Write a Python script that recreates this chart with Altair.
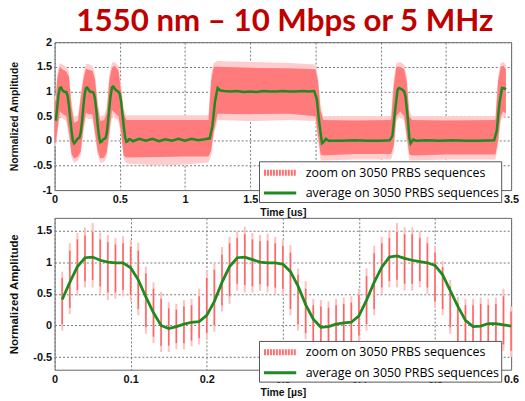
import altair as alt
import pandas as pd

TITLE = "1550 nm – 10 Mbps or 5 MHz"
LEG_ZOOM = "zoom on 3050 PRBS sequences"
LEG_AVG = "average on 3050 PRBS sequences"
Y_TITLE = "Normalized Amplitude"
X_TITLE_TOP = "Time [us]"
X_TITLE_BOT = "Time [µs]"

# ---------------- bottom panel (zoom 0 - 0.6 us), one sample every 10 ns
bot_t = [0.01, 0.02, 0.03, 0.04, 0.05, 0.06, 0.07, 0.08, 0.09, 0.10,
         0.11, 0.12, 0.13, 0.14, 0.15, 0.16, 0.17, 0.18, 0.19, 0.20,
         0.21, 0.22, 0.23, 0.24, 0.25, 0.26, 0.27, 0.28, 0.29, 0.30,
         0.31, 0.32, 0.33, 0.34, 0.35, 0.36, 0.37, 0.38, 0.39, 0.40,
         0.41, 0.42, 0.43, 0.44, 0.45, 0.46, 0.47, 0.48, 0.49, 0.50,
         0.51, 0.52, 0.53, 0.54, 0.55, 0.56, 0.57, 0.58, 0.59, 0.60]
bot_avg = [0.41, 0.68, 0.93, 1.07, 1.08, 1.03, 1.00, 0.99, 0.99, 0.91,
           0.72, 0.45, 0.20, 0.00, -0.05, -0.02, 0.02, 0.05, 0.06, 0.16,
           0.38, 0.68, 0.93, 1.07, 1.08, 1.04, 1.00, 0.99, 0.99, 0.97,
           0.85, 0.62, 0.33, 0.10, -0.03, -0.02, 0.02, 0.04, 0.05, 0.15,
           0.40, 0.68, 0.92, 1.08, 1.10, 1.06, 1.03, 1.01, 0.99, 0.95,
           0.80, 0.55, 0.30, 0.08, -0.02, -0.01, 0.03, 0.03, 0.01, -0.01]
bot_hi2 = [0.85, 1.30, 1.46, 1.55, 1.62, 1.47, 1.43, 1.38, 1.41, 1.35,
           1.31, 0.93, 0.68, 0.53, 0.37, 0.34, 0.40, 0.42, 0.58, 0.87,
           0.98, 1.24, 1.40, 1.48, 1.56, 1.46, 1.43, 1.45, 1.40, 1.36,
           1.27, 0.90, 0.70, 0.42, 0.40, 0.38, 0.42, 0.44, 0.46, 0.58,
           0.90, 1.26, 1.40, 1.48, 1.62, 1.55, 1.55, 1.48, 1.40, 1.26,
           1.02, 0.72, 0.45, 0.42, 0.42, 0.44, 0.42, 0.44, 0.58, 0.30]
bot_lo2 = [-0.08, 0.18, 0.47, 0.60, 0.60, 0.50, 0.40, 0.42, 0.46, 0.38,
           0.16, -0.13, -0.28, -0.42, -0.42, -0.38, -0.38, -0.33, -0.30, -0.22,
           -0.10, 0.22, 0.34, 0.55, 0.52, 0.52, 0.55, 0.52, 0.50, 0.48,
           0.16, -0.08, -0.22, -0.40, -0.45, -0.44, -0.42, -0.40, -0.38, -0.26,
           -0.08, 0.16, 0.50, 0.60, 0.60, 0.55, 0.55, 0.60, 0.50, 0.28,
           0.16, -0.13, -0.35, -0.45, -0.45, -0.44, -0.42, -0.42, -0.40, -0.50]
bot_hi = [0.75, 1.18, 1.36, 1.42, 1.48, 1.36, 1.32, 1.28, 1.30, 1.24,
          1.18, 0.82, 0.58, 0.42, 0.27, 0.25, 0.30, 0.32, 0.46, 0.75,
          0.88, 1.12, 1.30, 1.38, 1.44, 1.36, 1.33, 1.34, 1.30, 1.26,
          1.15, 0.80, 0.58, 0.32, 0.30, 0.28, 0.32, 0.34, 0.36, 0.48,
          0.78, 1.14, 1.30, 1.38, 1.48, 1.44, 1.44, 1.38, 1.30, 1.15,
          0.92, 0.62, 0.35, 0.32, 0.32, 0.34, 0.32, 0.34, 0.46, 0.22]
bot_lo = [0.02, 0.28, 0.56, 0.70, 0.72, 0.62, 0.52, 0.52, 0.56, 0.48,
          0.26, -0.03, -0.18, -0.32, -0.32, -0.28, -0.28, -0.24, -0.20, -0.12,
          0.00, 0.32, 0.46, 0.66, 0.64, 0.62, 0.65, 0.62, 0.60, 0.58,
          0.26, 0.02, -0.12, -0.30, -0.35, -0.34, -0.32, -0.30, -0.28, -0.16,
          0.02, 0.26, 0.60, 0.70, 0.72, 0.66, 0.66, 0.70, 0.60, 0.38,
          0.26, -0.03, -0.25, -0.35, -0.35, -0.34, -0.32, -0.32, -0.30, -0.40]

# ---------------- top panel (0 - 3.5 us): average trace vertices after 0.6 us
top_t_tail = [0.65, 0.70, 0.75, 0.80, 0.85, 0.90, 0.95, 1.00, 1.05, 1.10,
              1.15, 1.19, 1.21, 1.23, 1.25, 1.27, 1.30, 1.35, 1.40, 1.45,
              1.50, 1.55, 1.60, 1.65, 1.70, 1.75, 1.80, 1.85, 1.90, 1.95,
              1.99, 2.01, 2.03, 2.05, 2.06, 2.08, 2.10, 2.20, 2.30, 2.40,
              2.50, 2.57, 2.59, 2.61, 2.63, 2.64, 2.66, 2.68, 2.69, 2.71,
              2.72, 2.73, 2.75, 2.77, 2.85, 2.95, 3.05, 3.15, 3.25, 3.37,
              3.39, 3.41, 3.43, 3.45, 3.46]
top_avg_tail = [0.04, 0.00, 0.04, -0.01, 0.03, 0.00, 0.04, 0.00, 0.04, 0.01,
                0.03, 0.05, 0.30, 0.80, 1.07, 1.02, 1.01, 1.00, 1.01, 0.99,
                1.00, 0.99, 1.01, 1.00, 1.00, 1.01, 1.00, 1.00, 1.01, 1.00,
                1.01, 0.85, 0.35, -0.05, -0.03, 0.04, 0.00, 0.00, 0.01, 0.00,
                0.00, 0.01, 0.10, 0.60, 1.04, 1.07, 1.05, 1.00, 0.90, 0.40,
                0.05, -0.05, 0.03, 0.00, 0.01, 0.00, 0.01, 0.00, 0.00, 0.01,
                0.20, 0.75, 1.07, 1.06, 1.04]

# top panel scatter envelope (inner and outer extents)
band_t = [0.00, 0.01, 0.02, 0.04, 0.06, 0.09, 0.11, 0.13, 0.15, 0.18,
          0.20, 0.22, 0.24, 0.26, 0.29, 0.31, 0.33, 0.35, 0.38, 0.40,
          0.42, 0.44, 0.46, 0.49, 0.51, 0.53, 0.55, 0.80, 1.00, 1.18,
          1.20, 1.22, 1.25, 1.50, 1.80, 2.00, 2.02, 2.04, 2.06, 2.30,
          2.58, 2.60, 2.62, 2.65, 2.68, 2.70, 2.72, 2.74, 3.00, 3.38,
          3.40, 3.42, 3.44, 3.46]
band_lo2 = [-0.10, -0.12, 0.10, 0.50, 0.45, 0.40, 0.08, -0.35, -0.45, -0.40,
            -0.30, 0.15, 0.47, 0.44, 0.44, 0.08, -0.28, -0.45, -0.43, -0.32,
            0.08, 0.52, 0.47, 0.40, 0.08, -0.38, -0.46, -0.50, -0.48, -0.44,
            -0.30, 0.10, 0.42, 0.40, 0.42, 0.40, 0.00, -0.40, -0.40, -0.38,
            -0.38, -0.20, 0.40, 0.50, 0.40, 0.00, -0.40, -0.40, -0.38, -0.38,
            -0.10, 0.40, 0.50, 0.45]
band_lo = [-0.02, -0.05, 0.20, 0.60, 0.55, 0.50, 0.18, -0.27, -0.36, -0.32,
           -0.22, 0.25, 0.57, 0.54, 0.54, 0.18, -0.20, -0.36, -0.34, -0.24,
           0.18, 0.62, 0.57, 0.50, 0.18, -0.30, -0.34, -0.33, -0.32, -0.32,
           -0.20, 0.20, 0.55, 0.54, 0.55, 0.50, 0.10, -0.28, -0.30, -0.27,
           -0.27, -0.10, 0.50, 0.60, 0.50, 0.10, -0.28, -0.30, -0.28, -0.28,
           0.00, 0.50, 0.60, 0.55]
band_hi = [0.78, 0.85, 1.25, 1.50, 1.45, 1.40, 1.30, 0.68, 0.36, 0.41,
           0.86, 1.23, 1.46, 1.44, 1.42, 1.25, 0.68, 0.40, 0.42, 0.57,
           1.25, 1.48, 1.52, 1.42, 1.00, 0.55, 0.42, 0.42, 0.42, 0.42,
           1.20, 1.50, 1.50, 1.48, 1.47, 1.45, 1.20, 0.60, 0.42, 0.41,
           0.42, 1.10, 1.50, 1.50, 1.45, 1.20, 0.50, 0.42, 0.41, 0.42,
           1.20, 1.50, 1.52, 1.45]
band_hi2 = [0.88, 0.95, 1.35, 1.58, 1.55, 1.50, 1.40, 0.80, 0.48, 0.52,
            0.95, 1.33, 1.56, 1.56, 1.52, 1.35, 0.80, 0.50, 0.52, 0.68,
            1.35, 1.58, 1.60, 1.52, 1.10, 0.65, 0.52, 0.52, 0.52, 0.52,
            1.35, 1.58, 1.62, 1.60, 1.58, 1.55, 1.30, 0.70, 0.50, 0.50,
            0.50, 1.25, 1.58, 1.60, 1.55, 1.30, 0.62, 0.50, 0.50, 0.50,
            1.30, 1.58, 1.60, 1.55]

TOP_X_TICKS = [0, 0.5, 1, 1.5, 2, 2.5, 3, 3.5]
TOP_Y_TICKS = [-1, -0.5, 0, 0.5, 1, 1.5, 2]
BOT_X_TICKS = [0, 0.1, 0.2, 0.3, 0.4, 0.5, 0.6]
BOT_Y_TICKS = [-0.5, 0, 0.5, 1, 1.5]

RED_CORE = "#FF7B7B"
RED_LIGHT = "#FFCDCD"
RED_RULE = "#FF6464"
RED_RULE_LIGHT = "#FFC0C0"
GREEN = "#1F8A1F"

# ---------------- tables
bot_df = pd.DataFrame({"t": bot_t, "v": bot_avg, "lo": bot_lo, "hi": bot_hi,
                       "lo2": bot_lo2, "hi2": bot_hi2})
top_line_df = pd.DataFrame({"t": bot_t + top_t_tail,
                            "v": bot_avg + top_avg_tail})
band_df = pd.DataFrame({"t": band_t, "lo": band_lo, "hi": band_hi,
                        "lo2": band_lo2, "hi2": band_hi2})
leg_df = pd.DataFrame({"series": [LEG_ZOOM, LEG_AVG], "t": [0.0, 0.0], "v": [0.0, 0.0]})

LABEL_EXPR = "'' + datum.value"
# horizontal stroke symbol, offset to the right of its anchor
SYMBOL_PATH = "M-1,0H4"


def make_legend(lx, ly):
    return alt.Legend(orient="none", legendX=lx, legendY=ly, title=None,
                      symbolType=SYMBOL_PATH, symbolSize=169,
                      labelFont="Open Sans", labelFontSize=12.5, labelColor="#000",
                      labelLimit=0, fillColor="white", strokeColor="#555",
                      padding=2, rowPadding=0, labelOffset=26, symbolOpacity=1,
                      symbolFillColor="transparent")


def legend_layer(lx, ly):
    lg = make_legend(lx, ly)
    dom = [LEG_ZOOM, LEG_AVG]
    return alt.Chart(leg_df).mark_line().encode(
        x="t:Q", y="v:Q",
        color=alt.Color("series:N", scale=alt.Scale(domain=dom, range=["#FF7070", GREEN]), legend=lg),
        strokeDash=alt.StrokeDash("series:N", scale=alt.Scale(domain=dom, range=[[2, 1], [1, 0]]), legend=lg),
        strokeWidth=alt.StrokeWidth("series:N", scale=alt.Scale(type="ordinal", domain=dom, range=[6, 3]), legend=lg),
    )


def x_enc(domain, ticks, title):
    return alt.X("t:Q", scale=alt.Scale(domain=domain, nice=False, zero=False),
                 axis=alt.Axis(values=ticks, tickCount=len(ticks) + 2, title=title,
                               labelExpr=LABEL_EXPR, labelOverlap=False, labelFlush=False))


def y_enc(field, domain, ticks, title_size):
    return alt.Y(f"{field}:Q", scale=alt.Scale(domain=domain, nice=False, zero=False),
                 axis=alt.Axis(values=ticks, tickCount=len(ticks) + 2, title=Y_TITLE,
                               labelExpr=LABEL_EXPR, labelOverlap=False, labelFlush=False,
                               titleFontSize=title_size))


# ---------------- top chart
top_x = x_enc([0, 3.5], TOP_X_TICKS, X_TITLE_TOP)
top_outer = alt.Chart(band_df).mark_area(color=RED_LIGHT, opacity=1).encode(
    x=top_x, y=y_enc("lo2", [-1, 2], TOP_Y_TICKS, 10.5), y2="hi2:Q")
top_core = alt.Chart(band_df).mark_area(color=RED_CORE, opacity=1).encode(
    x="t:Q", y="lo:Q", y2="hi:Q")
top_line = alt.Chart(top_line_df).mark_line(color=GREEN, strokeWidth=2.5).encode(
    x="t:Q", y="v:Q")
top = alt.layer(top_outer, top_core, top_line, legend_layer(206, 120)).properties(
    width=460, height=149)

# ---------------- bottom chart
bot_x = x_enc([0, 0.6], BOT_X_TICKS, X_TITLE_BOT)
bot_outer = alt.Chart(bot_df).mark_rule(color=RED_RULE_LIGHT, strokeWidth=2).encode(
    x=bot_x, y=y_enc("lo2", [-0.7, 1.7], BOT_Y_TICKS, 11.5), y2="hi2:Q")
bot_core = alt.Chart(bot_df).mark_rule(color=RED_RULE, strokeWidth=1.5).encode(
    x="t:Q", y="lo:Q", y2="hi:Q")
bot_line = alt.Chart(bot_df).mark_line(color=GREEN, strokeWidth=2.8).encode(
    x="t:Q", y="v:Q")
bottom = alt.layer(bot_outer, bot_core, bot_line, legend_layer(206, 124)).properties(
    width=460, height=153)

chart = alt.vconcat(top, bottom, spacing=28, bounds="flush").resolve_scale(
    color="independent", strokeDash="independent", strokeWidth="independent"
).properties(
    title=alt.TitleParams(TITLE, font="Lato", fontSize=31.5, fontWeight="bold",
                          color="#C00000", anchor="middle", frame="group",
                          offset=-2, dx=2),
    padding={"left": 8, "top": 5, "right": 5, "bottom": 0},
).configure_view(stroke="#666", strokeWidth=1).configure_axis(
    labelFont="Liberation Sans", labelFontWeight="bold", labelFontSize=11,
    labelColor="#111", titleFont="Liberation Sans", titleFontWeight="bold",
    titleFontSize=10.5, titleColor="#111", ticks=False, domain=False,
    gridDash=[2, 2], gridColor="#777", gridWidth=1, gridOpacity=1,
    labelPadding=4, titlePadding=3, labelOverlap=False, labelFlush=False
).configure_axisY(titlePadding=13, labelPadding=3)

chart.save("out.html", embed_options={"renderer": "svg", "actions": False})
